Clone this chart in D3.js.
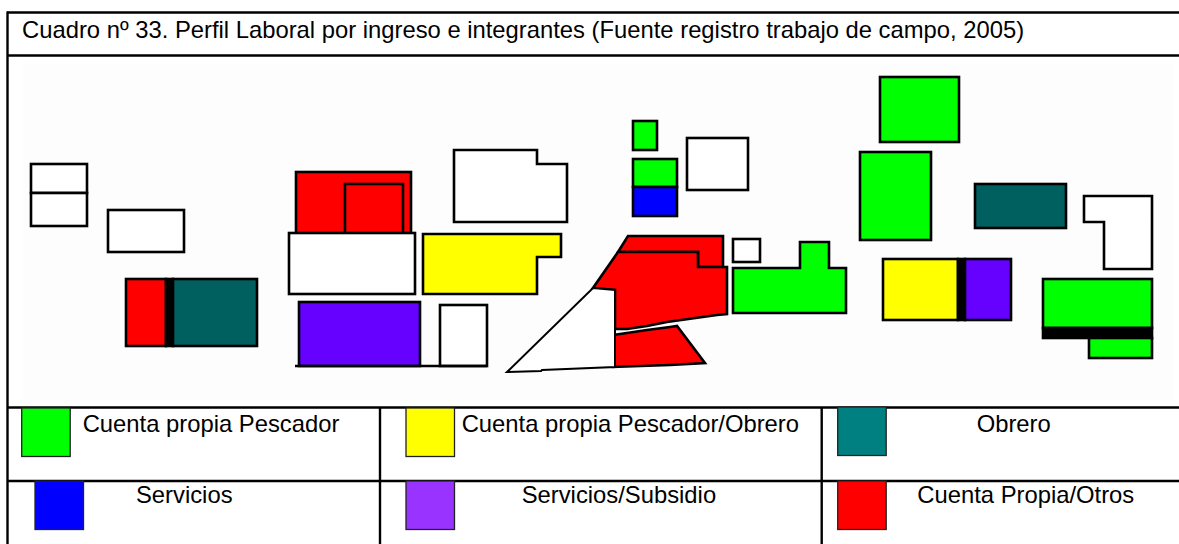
<!DOCTYPE html>
<html><head><meta charset="utf-8">
<script src="https://cdn.jsdelivr.net/npm/d3@7"></script>
<style>html,body{margin:0;padding:0;background:#fff;}svg{display:block;font-family:"Liberation Sans",Arial,sans-serif;}</style>
</head><body>
<script>
// ---- data ----
const title = "Cuadro nº 33. Perfil Laboral por ingreso e integrantes (Fuente registro trabajo de campo, 2005)";
const categories = ["Cuenta propia Pescador","Cuenta propia Pescador/Obrero","Obrero","Servicios","Servicios/Subsidio","Cuenta Propia/Otros"];
const categoryKeys = ["pescador","pescObrero","obrero","servicios","subsidio","otros"];
const legendColors = ["#00ff00","#ffff00","#008080","#0000ff","#9933ff","#ff0000"];
const planKeys = ["pescador","pescObrero","obrero","servicios","subsidio","otros","sinDato","muro"];
const planColors = ["#00ff00","#ffff00","#005f5f","#0000ff","#6600ff","#ff0000","#ffffff","#000000"];
// lots on the site plan (plan units), drawn in this order
const rectLots = [
  {cat:"sinDato", r:[11,104,56,29]}, {cat:"sinDato", r:[11,133,56,33]},
  {cat:"sinDato", r:[88,150,76,42]},
  {cat:"otros", r:[106,219,40,67]}, {cat:"muro", r:[146,219,7,67]}, {cat:"obrero", r:[153,219,84,67]},
  {cat:"otros", r:[276,112,115,62]}, {cat:"otros", r:[325,124,58,50]},
  {cat:"sinDato", r:[269,173,126,61]},
  {cat:"subsidio", r:[279,242,121,64]},
  {cat:"sinDato", r:[420,245,47,61]},
  {cat:"pescador", r:[613,61,24,29]},
  {cat:"pescador", r:[613,99,44,28]}, {cat:"servicios", r:[613,127,44,29]},
  {cat:"sinDato", r:[667,78,61,52]},
  {cat:"sinDato", r:[713,179,27,23]},
  {cat:"pescador", r:[860,17,79,65]},
  {cat:"pescador", r:[840,92,71,88]},
  {cat:"obrero", r:[955,124,91,44]},
  {cat:"pescObrero", r:[863,199,75,61]}, {cat:"muro", r:[938,199,7,61]}, {cat:"subsidio", r:[945,199,46,61]},
  {cat:"pescador", r:[1023,219,109,49]}, {cat:"muro", r:[1023,268,109,10]}, {cat:"pescador", r:[1069,278,63,20]}
];
const polyLots = [
  {cat:"pescObrero", p:[[403,174],[541,174],[541,197],[517,197],[517,234],[403,234]]},
  {cat:"sinDato", p:[[434,90],[517,90],[517,104],[547,104],[547,162],[434,162]]},
  {cat:"pescador", p:[[713,208],[780,208],[780,182],[809,182],[809,208],[826,208],[826,253],[713,253]]},
  {cat:"sinDato", p:[[1064,136],[1132,136],[1132,209],[1084,209],[1084,162],[1064,162]]},
  {cat:"otros", p:[[608,176],[703,176],[703,207],[678,207],[678,192],[598,192]]},
  {cat:"otros", p:[[598,192],[678,192],[678,207],[707,207],[707,254],[697,255],[647,262],[627,266],[607,269],[595,269],[595,230],[573,228]]},
  {cat:"otros", p:[[593,275],[607,273],[627,270],[650,267],[657,266],[685,303],[650,305],[593,307]]},
  {cat:"sinDato", thin:true, p:[[573,228],[595,230],[595,307],[522,310],[521,311],[487,312]]}
];
const baseLine = [[275,306],[467,306]];

// ---- layout ----
const W = 1179, H = 544;
const svg = d3.select("body").append("svg").attr("width", W).attr("height", H);
const x = d3.scaleLinear().domain([0, 1150]).range([20, 1170]);
const y = d3.scaleLinear().domain([0, 340]).range([60, 400]);
const fill = d3.scaleOrdinal().domain(planKeys).range(planColors);
const legendFill = d3.scaleOrdinal().domain(categoryKeys).range(legendColors);

// plot background
svg.append("rect").attr("x", 23).attr("y", 63).attr("width", 1150).attr("height", 338).attr("fill", "#fdfdfd");

const plan = svg.append("g");
const line = d3.line().x(d => x(d[0])).y(d => y(d[1]));
const drawRect = d => plan.append("rect")
  .attr("x", x(d.r[0])).attr("y", y(d.r[1]))
  .attr("width", x(d.r[0] + d.r[2]) - x(d.r[0])).attr("height", y(d.r[1] + d.r[3]) - y(d.r[1]))
  .attr("fill", fill(d.cat)).attr("stroke", "#000").attr("stroke-width", 2.6);
const drawPoly = d => plan.append("path").attr("d", line(d.p) + "Z")
  .attr("fill", fill(d.cat)).attr("stroke", "#000").attr("stroke-width", d.thin ? 2 : 2.6)
  .attr("stroke-linejoin", "miter");
rectLots.forEach(drawRect);
polyLots.forEach(drawPoly);
plan.append("path").attr("d", line(baseLine)).attr("stroke", "#000").attr("stroke-width", 2.6);

// ---- table frame ----
const frame = svg.append("g").attr("stroke", "#000").attr("stroke-width", 2.4);
frame.append("line").attr("x1", 7).attr("x2", W).attr("y1", 12.5).attr("y2", 12.5);
frame.append("line").attr("x1", 7).attr("x2", W).attr("y1", 55.5).attr("y2", 55.5);
frame.append("line").attr("x1", 7).attr("x2", W).attr("y1", 407.5).attr("y2", 407.5);
frame.append("line").attr("x1", 7).attr("x2", W).attr("y1", 481).attr("y2", 481);
frame.append("line").attr("x1", 7.5).attr("x2", 7.5).attr("y1", 11.5).attr("y2", H);
frame.append("line").attr("x1", 380).attr("x2", 380).attr("y1", 407).attr("y2", H);
frame.append("line").attr("x1", 821.7).attr("x2", 821.7).attr("y1", 407).attr("y2", H);

svg.append("text").attr("x", 22).attr("y", 37.5).attr("font-size", 23.8).attr("fill", "#000").text(title);

// ---- legend ----
const swatchX = [21.7, 406, 837.7, 35, 406, 837.7];
const swatchY = [408, 408, 407, 481, 481, 481];
const textX = [82.7, 461.7, 976.7, 136, 521.7, 917.3];
const textY = [431.7, 431.7, 431.7, 503.3, 503.3, 503.3];
const leg = svg.append("g");
categories.forEach((c, i) => {
  leg.append("rect").attr("x", swatchX[i]).attr("y", swatchY[i]).attr("width", 48.5).attr("height", 48.5)
    .attr("fill", legendFill(categoryKeys[i])).attr("stroke", "#222").attr("stroke-width", 1.3);
  leg.append("text").attr("x", textX[i]).attr("y", textY[i]).attr("font-size", 23.8).attr("fill", "#000").text(c);
});
</script>
</body></html>
